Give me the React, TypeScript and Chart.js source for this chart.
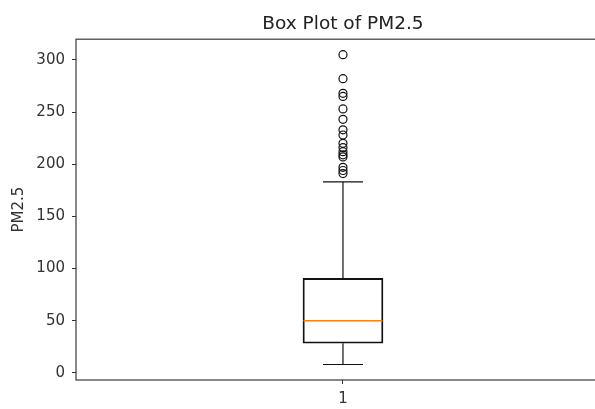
import React, { useEffect, useRef } from 'react';
import { Chart, registerables } from 'chart.js';

Chart.register(...registerables);

const categories = ['1'];
const categoryPositions = [1];
const q1Values = [28.4];
const medianValues = [50];
const q3Values = [90.5];
const whiskerLowValues = [8];
const whiskerHighValues = [183];
const outlierValues = [305, 282, 268, 265, 253, 243, 233, 228, 220, 216, 212, 209, 207, 197, 194, 191];
const yTickValues = [0, 50, 100, 150, 200, 250, 300];
const titleText = 'Box Plot of PM2.5';
const yLabel = 'PM2.5';

const FONT = "'DejaVu Sans', sans-serif";

const framePlugin = {
  id: 'frame',
  afterDatasetsDraw(chart: any) {
    const { ctx, chartArea } = chart;
    ctx.save();
    ctx.strokeStyle = '#3a3a3a';
    ctx.lineWidth = 1.2;
    ctx.strokeRect(chartArea.left, chartArea.top, chartArea.right - chartArea.left + 20, chartArea.bottom - chartArea.top);
    ctx.restore();
  },
};

const showTick = (vals: number[]) => (c: any) =>
  c && c.tick && vals.includes(c.tick.value) ? '#333' : 'rgba(0,0,0,0)';

export default function App() {
  const ref = useRef<HTMLCanvasElement | null>(null);

  useEffect(() => {
    document.body.style.margin = '0';
    document.body.style.overflow = 'hidden';
    const canvas = ref.current;
    if (!canvas) return;
    const pos = categoryPositions;
    const chart = new Chart(canvas, {
      type: 'bar',
      data: {
        datasets: [
          {
            type: 'bar',
            data: pos.map((p, i) => ({ x: p, y: [q1Values[i], q3Values[i]] })) as any,
            backgroundColor: 'rgba(0,0,0,0)',
            borderColor: '#111',
            borderWidth: 1.2,
            borderSkipped: false,
            barThickness: 80,
            grouped: false,
            order: 2,
          } as any,
          {
            type: 'line',
            data: pos.map((p, i) => [{ x: p, y: q3Values[i] }, { x: p, y: whiskerHighValues[i] }]).flat(),
            borderColor: '#111',
            borderWidth: 1.2,
            pointRadius: 0,
            showLine: true,
            order: 1,
          } as any,
          {
            type: 'line',
            data: pos.map((p, i) => [{ x: p, y: whiskerLowValues[i] }, { x: p, y: q1Values[i] }]).flat(),
            borderColor: '#111',
            borderWidth: 1.2,
            pointRadius: 0,
            showLine: true,
            order: 1,
          } as any,
          {
            type: 'line',
            data: pos.map((p, i) => [{ x: p, y: whiskerLowValues[i] }, { x: p, y: whiskerHighValues[i] }]).flat(),
            showLine: false,
            pointStyle: 'line',
            pointRadius: 20,
            pointBorderWidth: 1.2,
            pointBorderColor: '#111',
            order: 1,
          } as any,
          {
            type: 'line',
            data: pos.map((p, i) => ({ x: p, y: medianValues[i] })),
            showLine: false,
            pointStyle: 'line',
            pointRadius: 39.5,
            pointBorderWidth: 1.6,
            pointBorderColor: '#ff7f0e',
            order: 0,
          } as any,
          {
            type: 'line',
            data: outlierValues.map((v) => ({ x: pos[0], y: v })),
            showLine: false,
            pointStyle: 'circle',
            pointRadius: 4,
            pointBorderWidth: 1.2,
            pointBorderColor: '#111',
            pointBackgroundColor: 'rgba(0,0,0,0)',
            order: 0,
          } as any,
        ],
      },
      options: {
        responsive: false,
        maintainAspectRatio: false,
        animation: false,
        devicePixelRatio: 1,
        layout: { autoPadding: false, padding: { left: 0, right: 0, top: 0, bottom: 0 } },
        plugins: {
          legend: { display: false },
          tooltip: { enabled: false },
          title: {
            display: true,
            text: titleText,
            fullSize: true,
            align: 'start',
            color: '#222',
            font: { family: FONT, size: 18.5, weight: 'normal' },
            padding: { top: 13, bottom: 4 },
          },
        },
        scales: {
          x: {
            type: 'linear',
            min: 0.5,
            max: 1.472,
            offset: false,
            grid: {
              display: true,
              drawOnChartArea: false,
              drawTicks: true,
              tickLength: 4,
              offset: false,
              color: showTick(categoryPositions),
              tickColor: showTick(categoryPositions),
            },
            border: { display: false },
            afterBuildTicks: (s: any) => { s.ticks = categoryPositions.map((v) => ({ value: v })); },
            ticks: {
              color: '#333',
              font: { family: FONT, size: 15 },
              padding: 6,
              callback: (v: any) => {
                const idx = categoryPositions.indexOf(Number(v));
                return idx >= 0 ? categories[idx] : '';
              },
            },
            afterFit: (s: any) => { s.height = 29; },
          },
          y: {
            type: 'linear',
            min: -6.85,
            max: 319.85,
            grid: {
              display: true,
              drawOnChartArea: false,
              drawTicks: true,
              tickLength: 4,
              color: showTick(yTickValues),
              tickColor: showTick(yTickValues),
            },
            border: { display: false },
            ticks: { color: '#333', font: { family: FONT, size: 15 }, padding: 7 },
            afterBuildTicks: (s: any) => { s.ticks = yTickValues.map((v) => ({ value: v })); },
            afterFit: (s: any) => { s.width = 76; },
            title: {
              display: true,
              text: yLabel,
              color: '#333',
              font: { family: FONT, size: 15 },
              padding: { top: 10, bottom: 0 },
            },
          },
        },
      },
      plugins: [
        framePlugin,
        {
          id: 'titleCenter',
          beforeDraw(chart: any) {
            const t = chart.titleBlock;
            const xs = chart.scales.x;
            if (t && xs) {
              const cx = xs.getPixelForValue(categoryPositions[0]);
              const w = 2 * (cx - t.left);
              t.width = w;
              t.right = t.left + w;
              t.options.align = 'center';
            }
          },
        },
      ],
    });
    return () => chart.destroy();
  }, []);

  return (
    <div style={{ width: 595, height: 409, overflow: 'hidden', position: 'relative', background: '#fff' }}>
      <canvas ref={ref} width={595} height={409} style={{ display: 'block', width: 595, height: 409 }} />
    </div>
  );
}
